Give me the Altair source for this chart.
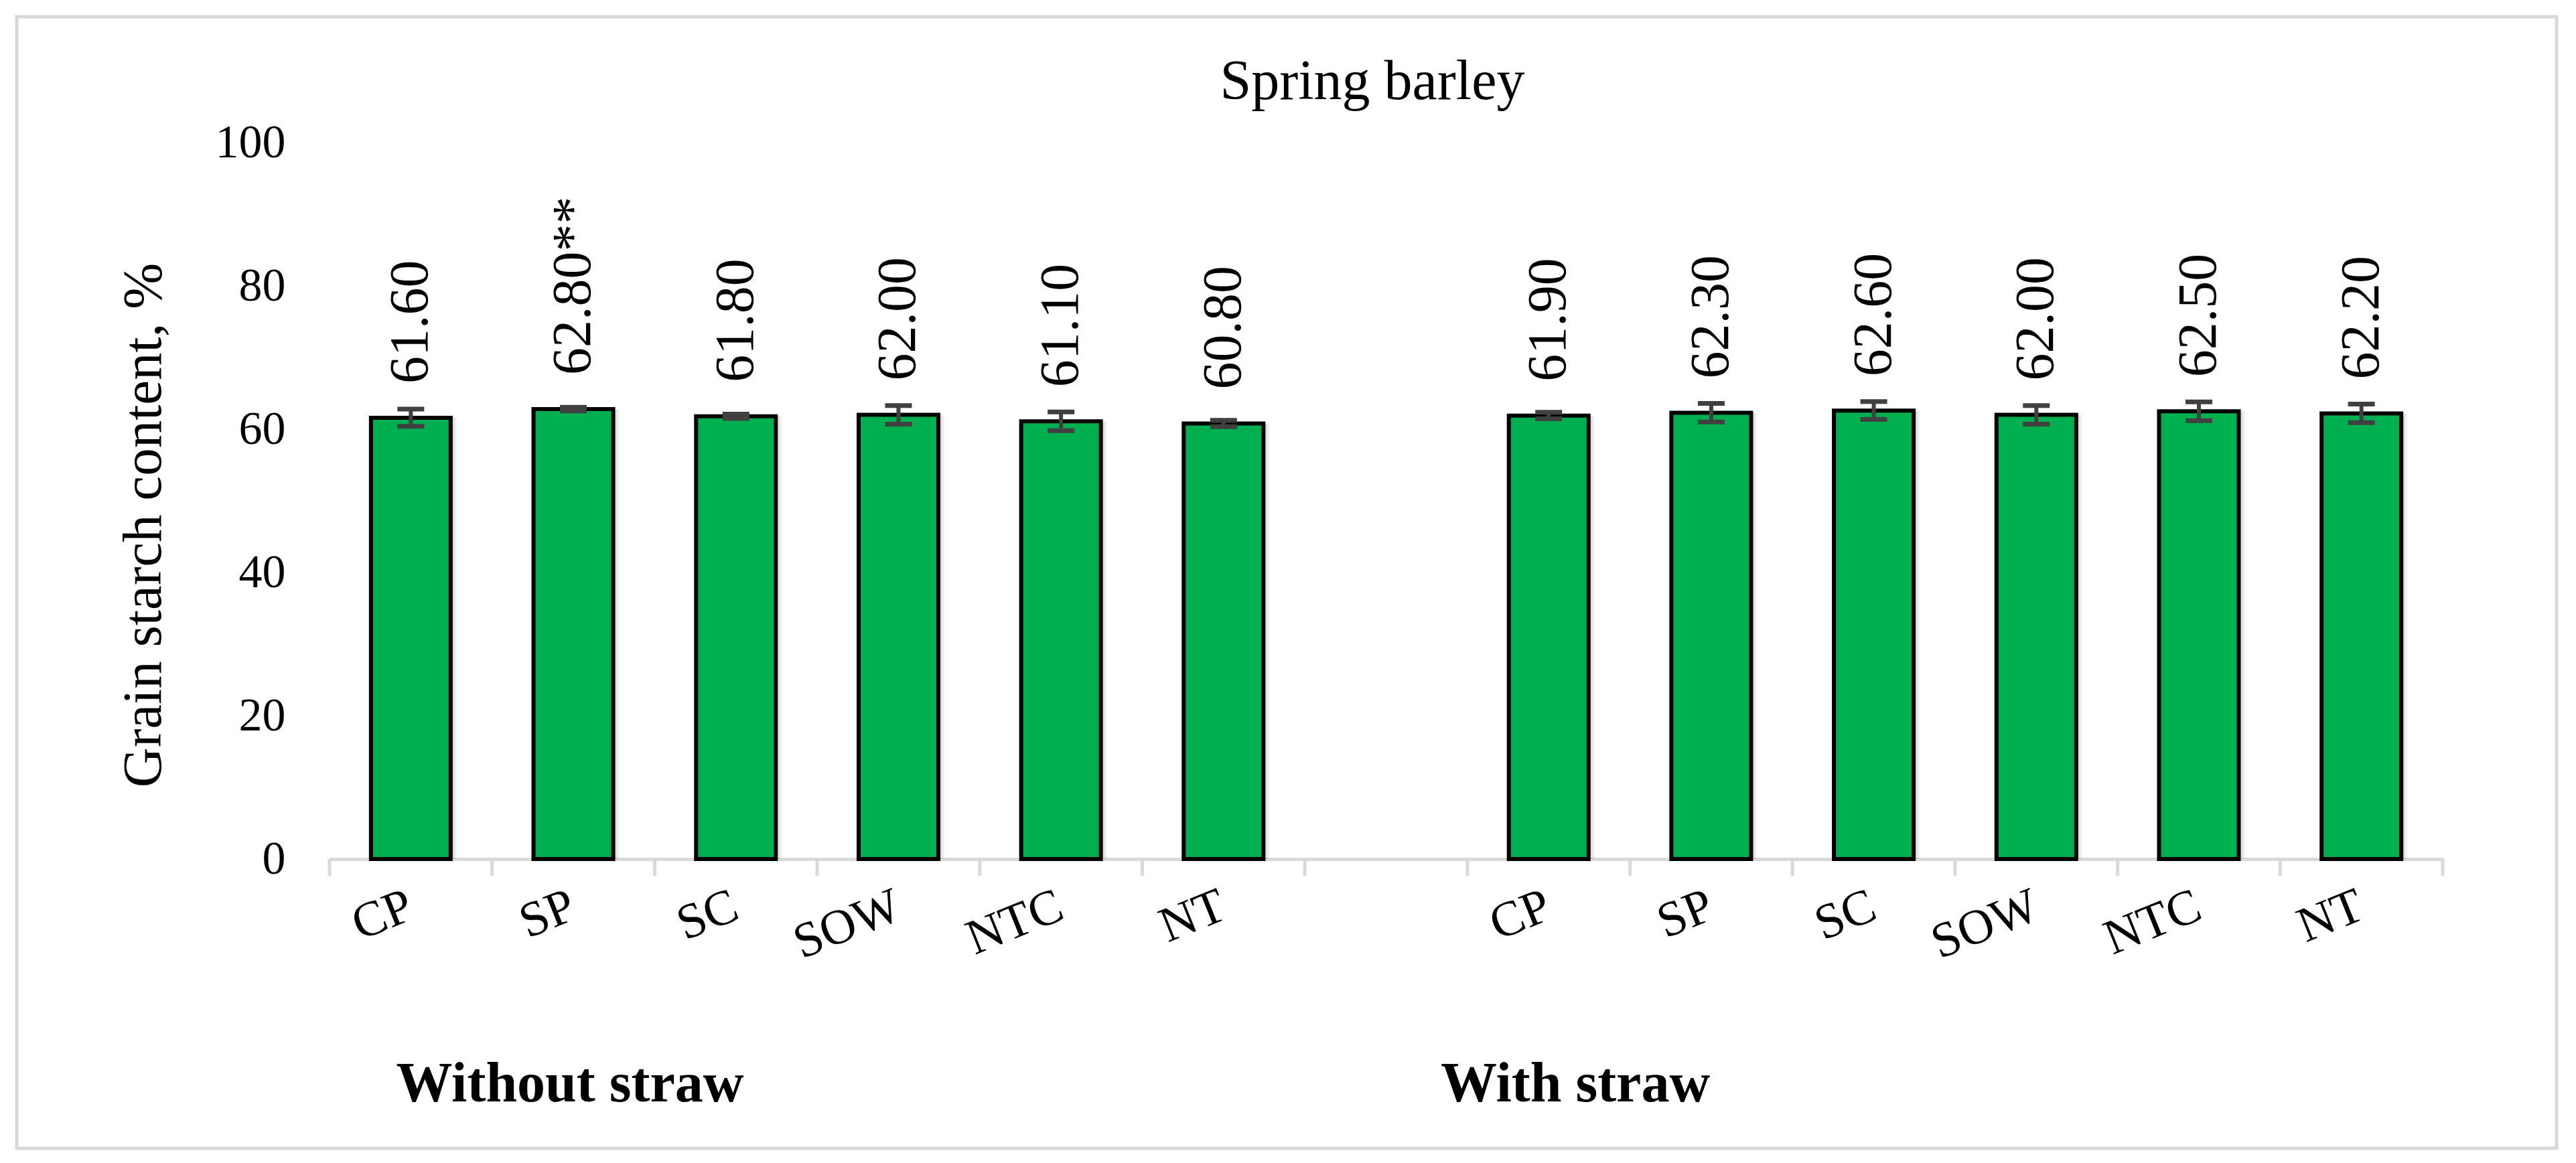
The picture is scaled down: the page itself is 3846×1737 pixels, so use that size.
import altair as alt
import pandas as pd

FONT = "Liberation Serif"
GRAY = "#d9d9d9"
GREEN = "#00b050"
ERR = "#404040"

treatments = ["CP", "SP", "SC", "SOW", "NTC", "NT"]
groups = ["Without straw", "With straw"]
values_without = [61.6, 62.8, 61.8, 62.0, 61.1, 60.8]
values_with = [61.9, 62.3, 62.6, 62.0, 62.5, 62.2]
err_without = [1.2, 0.25, 0.3, 1.3, 1.3, 0.45]
err_with = [0.45, 1.3, 1.25, 1.3, 1.3, 1.3]
sig_without = ["", "**", "", "", "", ""]
sig_with = ["", "", "", "", "", ""]
y_ticks = [0, 20, 40, 60, 80, 100]
chart_title = "Spring barley"
y_title = "Grain starch content, %"

rows = []
for g, vals, errs, sigs in [
    (groups[0], values_without, err_without, sig_without),
    (groups[1], values_with, err_with, sig_with),
]:
    for t, v, e, s in zip(treatments, vals, errs, sigs):
        rows.append({
            "key": f"{g}|{t}", "value": float(v),
            "lo": float(v - e), "hi": float(v + e),
            "label": f"{v:.2f}{s}",
        })
df = pd.DataFrame(rows)
domain = [f"{groups[0]}|{t}" for t in treatments] + ["gap"] + [f"{groups[1]}|{t}" for t in treatments]

W, H = 3155, 1070

x_axis = alt.Axis(
    title=None,
    labelExpr="indexof(datum.label, '|') >= 0 ? split(datum.label, '|')[1] : ''",
    labelAngle=338, labelAlign="right", labelBaseline="middle",
    labelFontSize=74, labelFont=FONT, labelColor="black", labelPadding=42,
    labelOverlap=False, tickSize=25, tickOpacity=0,
    domainColor=GRAY, domainWidth=5, grid=False,
)
y_axis = alt.Axis(
    values=y_ticks, title=y_title, domain=False, ticks=False, tickSize=0, grid=False,
    labelFontSize=70, labelFont=FONT, labelColor="black", labelPadding=66,
    labelFlush=False,
    titleFont=FONT, titleFontSize=83, titleFontWeight="normal", titleColor="black",
    titleX=-253, titleY=571, titleAngle=270, titleAlign="center",
    titleBaseline="alphabetic",
)
x_scale = alt.Scale(domain=domain, paddingInner=0, paddingOuter=0)
y_scale = alt.Scale(domain=[0, 100], nice=False)

X = alt.X("key:N", scale=x_scale, sort=domain, axis=x_axis)
Yv = alt.Y("value:Q", scale=y_scale, axis=y_axis)

base = alt.Chart(df)

shadow1 = base.mark_bar(color="black", opacity=0.07, size=121, xOffset=5).encode(x=X, y=Yv)
shadow2 = base.mark_bar(color="black", opacity=0.05, size=119, xOffset=9).encode(x=X, y=Yv)
bars = base.mark_bar(color=GREEN, stroke="black", strokeWidth=6, size=119).encode(x=X, y=Yv)
stems = base.mark_rule(color=ERR, strokeWidth=6).encode(
    x=X, y=alt.Y("lo:Q", scale=y_scale, axis=y_axis), y2="hi:Q")
caps_lo = base.mark_tick(color=ERR, size=40, thickness=7, opacity=1).encode(
    x=X, y=alt.Y("lo:Q", scale=y_scale, axis=y_axis))
caps_hi = base.mark_tick(color=ERR, size=40, thickness=7, opacity=1).encode(
    x=X, y=alt.Y("hi:Q", scale=y_scale, axis=y_axis))
labels = base.mark_text(
    angle=270, align="left", baseline="middle", dx=51,
    fontSize=82, font=FONT, color="black",
).encode(x=X, y=Yv, text="label:N")

# category boundary ticks (Excel style, between categories)
tick_df = pd.DataFrame({"key": domain})
end_df = pd.DataFrame({"key": [domain[-1]]})
ticks_start = alt.Chart(tick_df).mark_rule(color=GRAY, strokeWidth=5).encode(
    x=alt.X("key:N", scale=x_scale, sort=domain, axis=x_axis, bandPosition=0),
    y=alt.value(H), y2=alt.value(H + 25))
ticks_end = alt.Chart(end_df).mark_rule(color=GRAY, strokeWidth=5).encode(
    x=alt.X("key:N", scale=x_scale, sort=domain, axis=x_axis, bandPosition=1),
    y=alt.value(H), y2=alt.value(H + 25))

one = pd.DataFrame({"a": [0]})
border = alt.Chart(one).mark_rect(
    fill="white", fillOpacity=0, stroke=GRAY, strokeWidth=5
).encode(x=alt.value(-467), x2=alt.value(3325), y=alt.value(-188), y2=alt.value(1502))

title = alt.Chart(pd.DataFrame({"t": [chart_title]})).mark_text(
    fontSize=84, font=FONT, color="black", align="center", baseline="alphabetic"
).encode(x=alt.value(1557), y=alt.value(-65), text="t:N")

g1 = alt.Chart(pd.DataFrame({"g": [groups[0]]})).mark_text(
    fontSize=84, font=FONT, fontWeight="bold", color="black",
    align="center", baseline="alphabetic",
).encode(x=alt.value(359), y=alt.value(1432), text="g:N")
g2 = alt.Chart(pd.DataFrame({"g": [groups[1]]})).mark_text(
    fontSize=84, font=FONT, fontWeight="bold", color="black",
    align="center", baseline="alphabetic",
).encode(x=alt.value(1860), y=alt.value(1432), text="g:N")

chart = alt.layer(
    border, shadow2, shadow1, bars, stems, caps_lo, caps_hi, labels,
    ticks_start, ticks_end, title, g1, g2
).properties(
    width=W, height=H,
    padding={"left": 484, "top": 205, "right": 185, "bottom": 436},
    autosize=alt.AutoSizeParams(type="none"),
    background="white",
).configure_view(stroke=None)

chart.save("out.html", embed_options={"renderer": "svg", "actions": False})
